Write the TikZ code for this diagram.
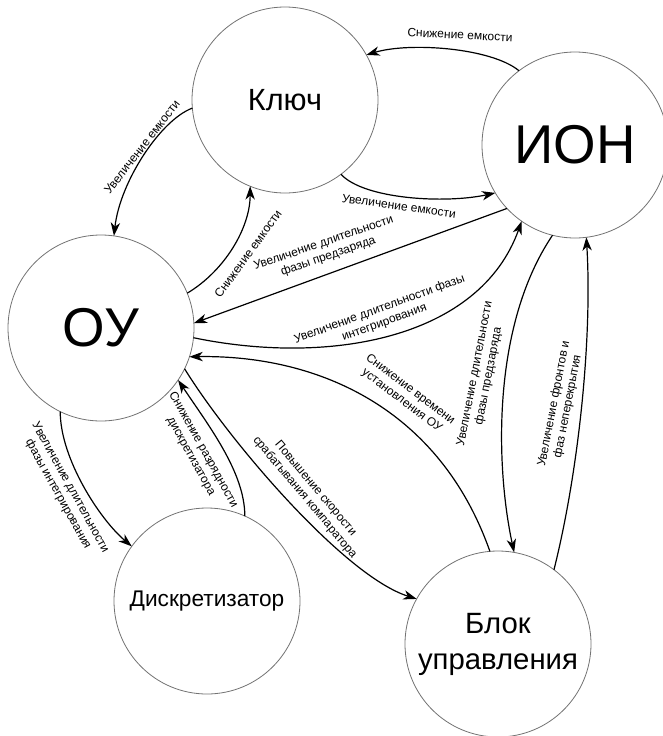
\documentclass[tikz,border=0pt]{standalone}
\usepackage{fontspec}
\setmainfont{Liberation Sans}
\usetikzlibrary{arrows.meta}
\begin{document}
\begin{tikzpicture}[x=0.75pt,y=-0.75pt,
  st/.style={circle,draw=black!55,line width=0.6pt,fill=white,minimum size=139.5pt,inner sep=0pt,outer sep=0pt,align=center},
  conn/.style={line width=0.9pt,-{Stealth[length=10pt,width=7pt,inset=3pt]}},
  lbl/.style={font=\fontsize{9}{10.5}\selectfont,align=center,inner sep=0pt}]
\useasboundingbox (0,0) rectangle (662,736);
% states
\node[st,font=\fontsize{23}{27}\selectfont] (key) at (285,100) {Ключ};
\node[st,font=\fontsize{41}{45}\selectfont] (ion) at (575,145) {ИОН};
\node[st,font=\fontsize{41}{45}\selectfont] (ou) at (101,328) {ОУ};
\node[st,font=\fontsize{17}{20}\selectfont] (disk) at (207,601) {Дискретизатор};
\node[st,font=\fontsize{22}{27}\selectfont] (blok) at (498,644) {Блок\\управления};
% connectors
\draw[conn] (ion.127) .. controls +(-28,-23) and +(43,-13) .. (key.29);
\draw[conn] (key.307) .. controls +(23,25) and +(-50,11) .. (ion.211);
\draw[conn] (ion.223) -- (ou.3);
\draw[conn] (ou.354.5) .. controls +(135,28) and +(-42,118) .. (ion.235.5);
\draw[conn] (blok.95) .. controls +(-50,-142) and +(130,-2) .. (ou.342);
\draw[conn] (ou.334) .. controls +(43,70) and +(-73,-23) .. (blok.151.6);
\draw[conn] (disk.66) .. controls +(0,-44) and +(30,45) .. (ou.326.6);
\draw[conn] (ou.244.3) .. controls +(0,47) and +(-32,-27) .. (disk.144.2);
\draw[conn] (ion.256) .. controls +(-62,92) and +(-18,-83) .. (blok.80.6);
\draw[conn] (blok.53.4) .. controls +(25,-100) and +(6,100) .. (ion.277.4);
\draw[conn] (key.185) .. controls +(-32,12) and +(6,-54) .. (ou.82);
\draw[conn] (ou.22.5) .. controls +(37,-22) and +(0,42) .. (key.248.3);
% labels
\node[lbl,rotate=-3] (l1) at (460,35) {Снижение емкости};
\node[lbl,rotate=-8] (l2) at (399,206) {Увеличение емкости};
\node[lbl,rotate=19] (l3) at (326,250) {Увеличение длительности\\фазы предзаряда};
\node[lbl,rotate=20] (l4) at (382,316) {Увеличение длительности фазы\\интегрирования};
\node[lbl,rotate=-37] (l5) at (406,395) {Снижение времени\\установления ОУ};
\node[lbl,rotate=-50] (l6) at (310,493) {Повышение скорости\\срабатывания компаратора};
\node[lbl,rotate=-61] (l7) at (197,453) {Снижение разрядности\\дискретизатора};
\node[lbl,rotate=-61] (l8) at (64,491) {Увеличение длительности\\фазы интегрирования};
\node[lbl,rotate=79] (l9) at (482,375) {Увеличение длительности\\фазы предзаряда};
\node[lbl,rotate=79] (l10) at (561,405) {Увеличение фронтов и\\фаз неперекрытия};
\node[lbl,rotate=52] (l11) at (142,147) {Увеличение емкости};
\node[lbl,rotate=54] (l12) at (248,254) {Снижение емкости};
\end{tikzpicture}
\end{document}
